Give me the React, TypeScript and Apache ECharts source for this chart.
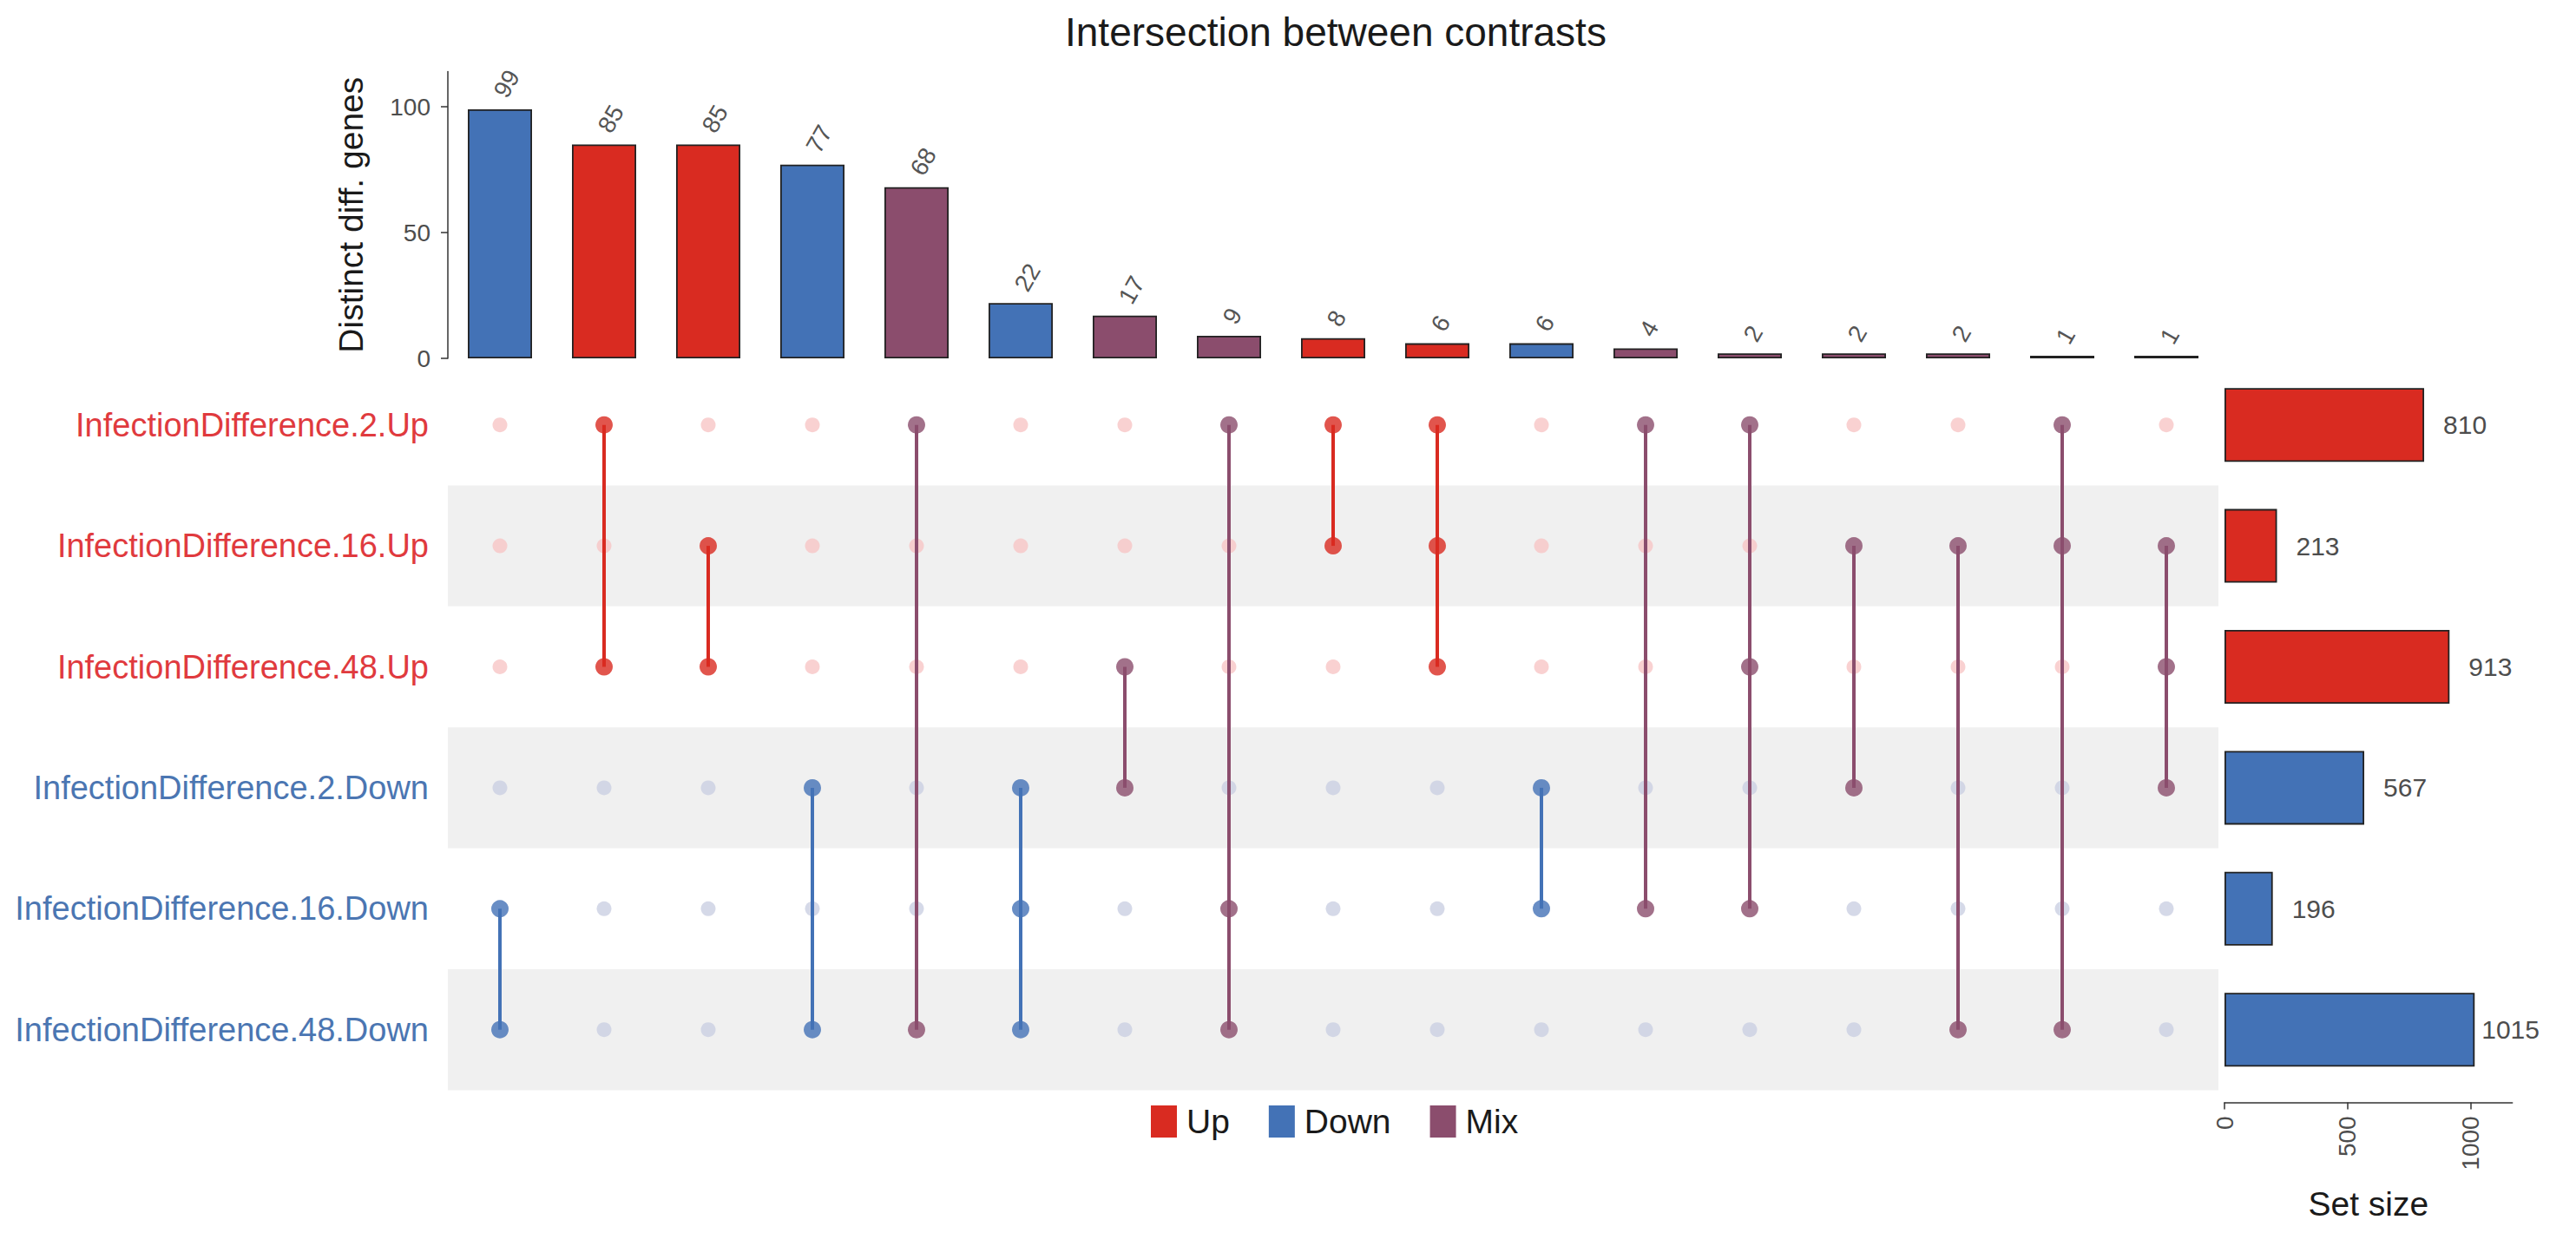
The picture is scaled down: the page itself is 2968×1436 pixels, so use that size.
import React, { useEffect, useRef } from "react";
import * as echarts from "echarts";

// Intersection sizes (bars on top), their direction class, and member sets (row indices)
const intersectionCounts = [99, 85, 85, 77, 68, 22, 17, 9, 8, 6, 6, 4, 2, 2, 2, 1, 1];
const intersectionTypes = [
  "Down", "Up", "Up", "Down", "Mix", "Down", "Mix", "Mix", "Up",
  "Up", "Down", "Mix", "Mix", "Mix", "Mix", "Mix", "Mix",
];
const intersectionSets = [
  [4, 5], [0, 2], [1, 2], [3, 5], [0, 5], [3, 4, 5], [2, 3], [0, 4, 5], [0, 1],
  [0, 1, 2], [3, 4], [0, 4], [0, 2, 4], [1, 3], [1, 5], [0, 1, 5], [1, 2, 3],
];

// Sets (matrix rows) and their sizes
const setNames = [
  "InfectionDifference.2.Up",
  "InfectionDifference.16.Up",
  "InfectionDifference.48.Up",
  "InfectionDifference.2.Down",
  "InfectionDifference.16.Down",
  "InfectionDifference.48.Down",
];
const setSizes = [810, 213, 913, 567, 196, 1015];
const setDirections = ["Up", "Up", "Up", "Down", "Down", "Down"];

const countTicks = [0, 50, 100];
const sizeTicks = [0, 500, 1000];
const legendNames = ["Up", "Down", "Mix"];

const typeColors: Record<string, string> = {
  Up: "#d92b21",
  Down: "#4372b6",
  Mix: "#8b4d6d",
};
const inactiveColors: Record<string, string> = {
  Up: "#f7c5c5",
  Down: "#cbd0e2",
};
const labelColors: Record<string, string> = {
  Up: "#e03a3e",
  Down: "#4b76b2",
};

const FONT = "'Liberation Sans', Arial, Helvetica, sans-serif";

export default function App() {
  const ref = useRef<HTMLDivElement>(null);

  useEffect(() => {
    if (!ref.current) return;
    const chart = echarts.init(ref.current, undefined, { renderer: "svg" });

    const columns = intersectionCounts.map((_, i) => `C${i + 1}`);

    const barSeries = legendNames.map((t) => ({
      name: t,
      type: "bar",
      xAxisIndex: 0,
      yAxisIndex: 0,
      stack: "count",
      barWidth: 74,
      data: intersectionCounts.map((v, i) => (intersectionTypes[i] === t ? v : "-")),
      itemStyle: { color: typeColors[t], borderColor: "#222222", borderWidth: 1.8 },
      label: {
        show: true,
        position: "top",
        distance: 16,
        rotate: 60,
        align: "left",
        verticalAlign: "middle",
        fontSize: 28,
        fontFamily: FONT,
        color: "#555555",
      },
      z: 3,
    }));

    // Matrix cells
    const inactive: any[] = [];
    const active: any[] = [];
    const connectors: number[][] = [];
    intersectionSets.forEach((members, c) => {
      for (let r = 0; r < setNames.length; r++) {
        if (members.includes(r)) {
          active.push({ value: [c, r], itemStyle: { color: typeColors[intersectionTypes[c]] } });
        } else {
          inactive.push({ value: [c, r], itemStyle: { color: inactiveColors[setDirections[r]] } });
        }
      }
      connectors.push([c, Math.min(...members), Math.max(...members)]);
    });

    const option: any = {
      animation: false,
      backgroundColor: "#ffffff",
      textStyle: { fontFamily: FONT },
      title: {
        text: "Intersection between contrasts",
        left: 1227,
        top: 14,
        padding: 0,
        textStyle: { fontSize: 46, fontWeight: "normal", color: "#1a1a1a", fontFamily: FONT },
      },
      legend: {
        data: legendNames,
        left: 1326,
        top: 1273,
        padding: 0,
        icon: "rect",
        itemWidth: 30,
        itemHeight: 37,
        itemGap: 45,
        itemStyle: { borderWidth: 0 },
        textStyle: { fontSize: 39, color: "#1a1a1a", fontFamily: FONT, padding: [0, 0, 0, 6] },
      },
      grid: [
        { left: 516, top: 82.4, width: 2040, height: 330.6 },
        { left: 516, top: 420, width: 2040, height: 836.4 },
        { left: 2563, top: 420, width: 331.7, height: 836.4 },
      ],
      xAxis: [
        { type: "category", gridIndex: 0, data: columns, show: false },
        { type: "category", gridIndex: 1, data: columns, show: false },
        {
          type: "value",
          gridIndex: 2,
          min: 0,
          max: 1168,
          position: "bottom",
          offset: 14,
          axisLine: { show: true, lineStyle: { color: "#333333", width: 1.5 } },
          axisTick: { show: true, customValues: sizeTicks, length: 8, lineStyle: { color: "#333333", width: 1.5 } },
          axisLabel: {
            customValues: sizeTicks,
            formatter: (v: number) => String(v),
            rotate: 90,
            margin: 16,
            fontSize: 28,
            color: "#4d4d4d",
            fontFamily: FONT,
          },
          splitLine: { show: false },
          name: "Set size",
          nameLocation: "middle",
          nameGap: 98,
          nameTextStyle: { fontSize: 39, color: "#1a1a1a", fontFamily: FONT },
        },
      ],
      yAxis: [
        {
          type: "value",
          gridIndex: 0,
          min: 0,
          max: 114,
          axisLine: { show: true, lineStyle: { color: "#333333", width: 1.5 } },
          axisTick: { show: true, customValues: countTicks, length: 8, lineStyle: { color: "#333333", width: 1.5 } },
          axisLabel: { customValues: countTicks, margin: 20, fontSize: 28, color: "#4d4d4d", fontFamily: FONT },
          splitLine: { show: false },
          name: "Distinct diff. genes",
          nameLocation: "middle",
          nameGap: 92,
          nameTextStyle: { fontSize: 39, color: "#1a1a1a", fontFamily: FONT },
        },
        {
          type: "category",
          gridIndex: 1,
          data: setNames,
          inverse: true,
          axisLine: { show: false },
          axisTick: { show: false },
          axisLabel: {
            margin: 22,
            fontSize: 38,
            fontFamily: FONT,
            color: (_v: string, i: number) => labelColors[setDirections[i]],
          },
          splitLine: { show: false },
          splitArea: { show: true, areaStyle: { color: ["rgba(255,255,255,0)", "#f0f0f0"] } },
        },
        {
          type: "category",
          gridIndex: 2,
          data: setNames,
          inverse: true,
          show: false,
        },
      ],
      series: [
        ...barSeries,
        {
          name: "inactive",
          type: "scatter",
          xAxisIndex: 1,
          yAxisIndex: 1,
          symbolSize: 17,
          data: inactive,
          z: 2,
          silent: true,
        },
        {
          name: "connectors",
          type: "custom",
          xAxisIndex: 1,
          yAxisIndex: 1,
          data: connectors,
          encode: { x: 0, y: [1, 2] },
          z: 3,
          silent: true,
          renderItem: (params: any, api: any) => {
            const c = api.value(0);
            const p0 = api.coord([c, api.value(1)]);
            const p1 = api.coord([c, api.value(2)]);
            return {
              type: "line",
              shape: { x1: p0[0], y1: p0[1], x2: p1[0], y2: p1[1] },
              style: { stroke: typeColors[intersectionTypes[params.dataIndex]], lineWidth: 4 },
            };
          },
        },
        {
          name: "active",
          type: "scatter",
          xAxisIndex: 1,
          yAxisIndex: 1,
          symbolSize: 20,
          data: active,
          z: 4,
          silent: true,
        },
        {
          name: "setSize",
          type: "bar",
          xAxisIndex: 2,
          yAxisIndex: 2,
          barWidth: 85,
          data: setSizes.map((v, i) => ({
            value: v,
            itemStyle: { color: typeColors[setDirections[i]] },
            label: v > 1000 ? { distance: 8 } : undefined,
          })),
          itemStyle: { borderColor: "#222222", borderWidth: 1.8 },
          label: {
            show: true,
            position: "right",
            distance: 22,
            fontSize: 30,
            color: "#4d4d4d",
            fontFamily: FONT,
          },
        },
      ],
    };

    chart.setOption(option);
    return () => chart.dispose();
  }, []);

  return (
    <div
      ref={ref}
      style={{ position: "fixed", left: 0, top: 0, width: 2968, height: 1436, background: "#fff" }}
    />
  );
}
